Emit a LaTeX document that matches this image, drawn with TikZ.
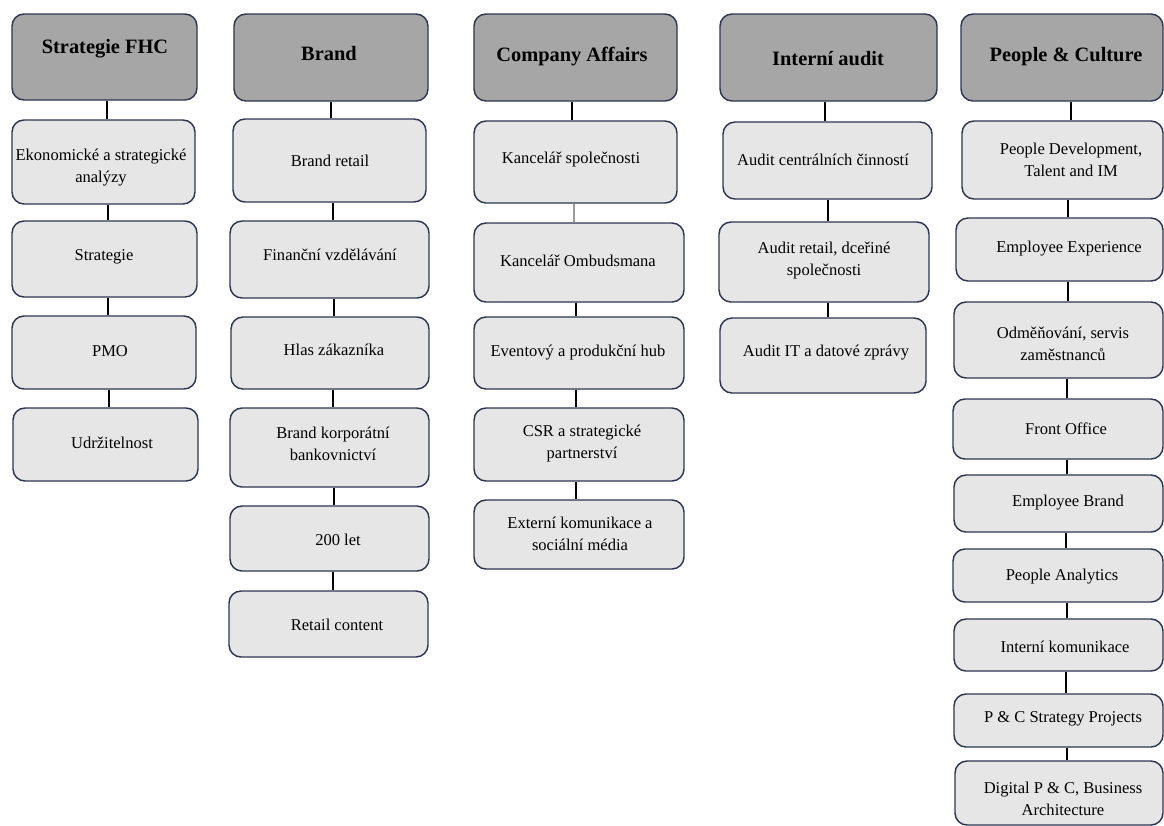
\documentclass[tikz,border=0pt]{standalone}
\usepackage{fontspec}
\setmainfont{Liberation Serif}
\definecolor{edge}{HTML}{2C3752}
\definecolor{headfill}{HTML}{A6A6A6}
\definecolor{unitfill}{HTML}{E6E6E6}
\definecolor{linkgray}{HTML}{9A9A9A}
% box given by its corners (x1,y1)-(x2,y2) in pixel units, caption centred at (tx,ty)
\newcommand\orgbox[9]{%
  \node[#1, minimum width={(#5-#3)*0.75pt}, minimum height={(#6-#4)*0.75pt}]
    (#2) at ({(#3+#5)/2},{(#4+#6)/2}) {};
  \node[#1 text] (#2-t) at (#7,#8) {#9};}
\begin{document}
\begin{tikzpicture}[x=0.75pt,y=-0.75pt,
  base/.style={draw=edge, line width=1.1pt, rounded corners=9pt, inner sep=0pt},
  head/.style={base, fill=headfill},
  unit/.style={base, fill=unitfill},
  head text/.style={inner sep=0pt, align=center, font=\fontsize{15.3}{18}\selectfont\bfseries},
  unit text/.style={inner sep=0pt, align=center, font=\fontsize{12.4}{16.5}\selectfont},
  link/.style={draw=black, line width=0.9pt},
  faint/.style={draw=linkgray, line width=0.9pt}]
\useasboundingbox (0,0) rectangle (1164,825);
\fill[white] (0,0) rectangle (1164,825);

% Strategie FHC
\orgbox{head}{h1}{12}{14}{197}{100}{105}{49}{Strategie FHC}
\orgbox{unit}{a1}{12}{120}{195}{204}{101}{168}{Ekonomické a strategické\\analýzy}
\orgbox{unit}{a2}{12}{221}{197}{297}{104}{257}{Strategie}
\orgbox{unit}{a3}{12}{316}{196}{389}{110}{351}{PMO}
\orgbox{unit}{a4}{13}{408}{198}{481}{112}{443}{Udržitelnost}

% Brand
\orgbox{head}{h2}{234}{14}{428}{101}{329}{54}{Brand}
\orgbox{unit}{b1}{233}{119}{426}{202}{330}{161}{Brand retail}
\orgbox{unit}{b2}{230}{221}{429}{298}{330}{255}{Finanční vzdělávání}
\orgbox{unit}{b3}{231}{317}{429}{389}{334}{350}{Hlas zákazníka}
\orgbox{unit}{b4}{230}{408}{429}{487}{333}{444}{Brand korporátní\\bankovnictví}
\orgbox{unit}{b5}{230}{506}{429}{571}{338}{540}{200 let}
\orgbox{unit}{b6}{229}{591}{428}{657}{337}{625}{Retail content}

% Company Affairs
\orgbox{head}{h3}{474}{14}{677}{101}{572}{57}{Company Affairs}
\orgbox{unit}{c1}{474}{121}{677}{203}{571}{160}{Kancelář společnosti}
\orgbox{unit}{c2}{474}{223}{684}{302}{578}{261}{Kancelář Ombudsmana}
\orgbox{unit}{c3}{474}{317}{684}{389}{578}{353}{Eventový a produkční hub}
\orgbox{unit}{c4}{474}{408}{684}{481}{582}{444}{CSR a strategické\\partnerství}
\orgbox{unit}{c5}{474}{500}{684}{569}{580}{534}{Externí komunikace a\\sociální média}

% Interní audit
\orgbox{head}{h4}{720}{14}{937}{101}{828}{59}{Interní audit}
\orgbox{unit}{d1}{723}{122}{932}{199}{823}{160}{Audit centrálních činností}
\orgbox{unit}{d2}{719}{222}{929}{302}{824}{261}{Audit retail, dceřiné\\společnosti}
\orgbox{unit}{d3}{720}{318}{926}{393}{826}{353}{Audit IT a datové zprávy}

% People & Culture
\orgbox{head}{h5}{961}{14}{1163}{101}{1066}{57}{People \& Culture}
\orgbox{unit}{e1}{962}{121}{1163}{199}{1071}{160}{People Development,\\Talent and IM}
\orgbox{unit}{e2}{956}{218}{1163}{281}{1069}{249}{Employee Experience}
\orgbox{unit}{e3}{954}{302}{1163}{378}{1063}{344}{Odměňování, servis\\zaměstnanců}
\orgbox{unit}{e4}{953}{399}{1163}{459}{1066}{429}{Front Office}
\orgbox{unit}{e5}{954}{475}{1163}{532}{1068}{503}{Employee Brand}
\orgbox{unit}{e6}{953}{549}{1163}{602}{1062}{577}{People Analytics}
\orgbox{unit}{e7}{954}{619}{1163}{671}{1065}{647}{Interní komunikace}
\orgbox{unit}{e8}{954}{694}{1163}{747}{1063}{719}{P \& C Strategy Projects}
\orgbox{unit}{e9}{955}{761}{1163}{825}{1063}{799}{Digital P \& C, Business\\Architecture}

% connectors, one vertical line per column
\foreach \p/\c/\x in {h1/a1/107,a1/a2/108,a2/a3/108,a3/a4/109,
                   h2/b1/331,b1/b2/333,b2/b3/334,b3/b4/333,b4/b5/334,b5/b6/333,
                   h3/c1/572,c2/c3/576,c3/c4/576,c4/c5/576,
                   h4/d1/825,d1/d2/828,d2/d3/828,
                   h5/e1/1071,e1/e2/1068,e2/e3/1068,e3/e4/1067,e4/e5/1067,
                   e5/e6/1066,e6/e7/1067,e7/e8/1066,e8/e9/1067}
  \draw[link] (\p.south -| \x,0) -- (\c.north -| \x,0);
\draw[faint] (c1.south -| 574,0) -- (c2.north -| 574,0);
\end{tikzpicture}
\end{document}
